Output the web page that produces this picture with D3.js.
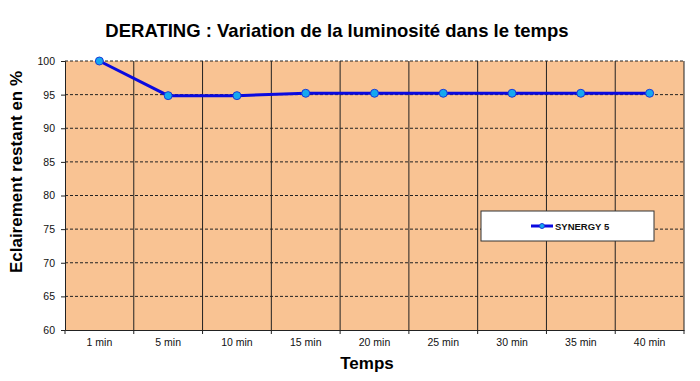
<!DOCTYPE html>
<html>
<head>
<meta charset="utf-8">
<style>
  body { margin: 0; background: #fff; }
  svg { display: block; font-family: "Liberation Sans", Arial, sans-serif; }
</style>
</head>
<body>
<script src="https://d3js.org/d3.v7.min.js"></script>
<script>

var width = 700,
    height = 381;
var margin = {"top": 61, "right": 16, "bottom": 51, "left": 65};

// data
var categories = ["1 min", "5 min", "10 min", "15 min", "20 min", "25 min", "30 min", "35 min", "40 min"];
var values = [100, 94.85, 94.85, 95.2, 95.2, 95.2, 95.2, 95.2, 95.2];
var yTicks = [60, 65, 70, 75, 80, 85, 90, 95, 100];
var seriesName = "SYNERGY 5";

var svg = d3.select("body").append("svg")
    .attr("width", width)
    .attr("height", height);

var innerW = width - margin.left - margin.right,
    innerH = height - margin.top - margin.bottom;

var x = d3.scaleBand().domain(categories).range([0, innerW]);
var y = d3.scaleLinear().domain([60, 100]).range([innerH, 0]);

var g = svg.append("g")
    .attr("transform", "translate(" + margin.left + "," + margin.top + ")");

// plot background
g.append("rect")
    .attr("width", innerW)
    .attr("height", innerH)
    .attr("fill", "#f9c393");

// horizontal dashed grid
g.selectAll(".hgrid")
    .data(yTicks.filter(function(d) { return d > 60; }))
    .enter().append("line")
    .attr("x1", 0).attr("x2", innerW)
    .attr("y1", function(d) { return y(d); })
    .attr("y2", function(d) { return y(d); })
    .attr("stroke", "#222")
    .attr("stroke-width", 1)
    .attr("stroke-dasharray", "3,2");

// vertical solid grid
g.selectAll(".vgrid")
    .data(categories.slice(1))
    .enter().append("line")
    .attr("x1", function(d) { return x(d); })
    .attr("x2", function(d) { return x(d); })
    .attr("y1", 0).attr("y2", innerH)
    .attr("stroke", "#222")
    .attr("stroke-width", 1);

// right border
g.append("line")
    .attr("x1", innerW).attr("x2", innerW)
    .attr("y1", 0).attr("y2", innerH)
    .attr("stroke", "#222");

// y axis
var yAxis = g.append("g")
    .call(d3.axisLeft(y).tickValues(yTicks).tickSize(4).tickPadding(6));
yAxis.select(".domain").attr("stroke", "#222");
yAxis.selectAll(".tick line").attr("stroke", "#222");
yAxis.selectAll("text").attr("font-size", 10.5).attr("fill", "#111")
    .attr("font-family", "Liberation Sans, Arial, sans-serif");

// x axis: ticks at category boundaries
var xAxis = g.append("g")
    .attr("transform", "translate(0," + innerH + ")")
    .call(d3.axisBottom(x).tickSize(0).tickPadding(9));
xAxis.select(".domain").attr("stroke", "#222");
xAxis.selectAll("text").attr("font-size", 10.5).attr("fill", "#111")
    .attr("font-family", "Liberation Sans, Arial, sans-serif");
g.selectAll(".xtick")
    .data(categories.concat(["end"]))
    .enter().append("line")
    .attr("x1", function(d, i) { return i * x.step(); })
    .attr("x2", function(d, i) { return i * x.step(); })
    .attr("y1", innerH).attr("y2", innerH + 4)
    .attr("stroke", "#222");

// series line
var line = d3.line()
    .x(function(d, i) { return x(categories[i]) + x.bandwidth() / 2; })
    .y(function(d) { return y(d); });

g.append("path")
    .datum(values)
    .attr("d", line)
    .attr("fill", "none")
    .attr("stroke", "#0a0ae0")
    .attr("stroke-width", 3);

g.selectAll(".pt")
    .data(values)
    .enter().append("circle")
    .attr("cx", function(d, i) { return x(categories[i]) + x.bandwidth() / 2; })
    .attr("cy", function(d) { return y(d); })
    .attr("r", 4)
    .attr("fill", "#14a8f0")
    .attr("stroke", "#1a3ad8")
    .attr("stroke-width", 1);

// legend
var legend = svg.append("g")
    .attr("transform", "translate(481,211)");
legend.append("rect")
    .attr("width", 173)
    .attr("height", 30)
    .attr("fill", "#fff")
    .attr("stroke", "#333")
    .attr("stroke-width", 1);
legend.append("line")
    .attr("x1", 50).attr("x2", 72)
    .attr("y1", 15).attr("y2", 15)
    .attr("stroke", "#0a0ae0")
    .attr("stroke-width", 3);
legend.append("circle")
    .attr("cx", 61).attr("cy", 15).attr("r", 2.5)
    .attr("fill", "#14a8f0")
    .attr("stroke", "#1a3ad8");
legend.append("text")
    .attr("x", 74).attr("y", 18.5)
    .attr("font-size", 9.5)
    .attr("font-weight", "bold")
    .attr("fill", "#111")
    .text(seriesName);

// title
svg.append("text")
    .attr("x", 337).attr("y", 37)
    .attr("text-anchor", "middle")
    .attr("font-size", 18.5)
    .attr("font-weight", "bold")
    .attr("fill", "#000")
    .text("DERATING : Variation de la luminosité dans le temps");

// axis titles
svg.append("text")
    .attr("transform", "translate(22,172) rotate(-90)")
    .attr("text-anchor", "middle")
    .attr("font-size", 17)
    .attr("font-weight", "bold")
    .attr("fill", "#000")
    .text("Eclairement restant en %");

svg.append("text")
    .attr("x", 367).attr("y", 369)
    .attr("text-anchor", "middle")
    .attr("font-size", 17)
    .attr("font-weight", "bold")
    .attr("fill", "#000")
    .text("Temps");

</script>
</body>
</html>
